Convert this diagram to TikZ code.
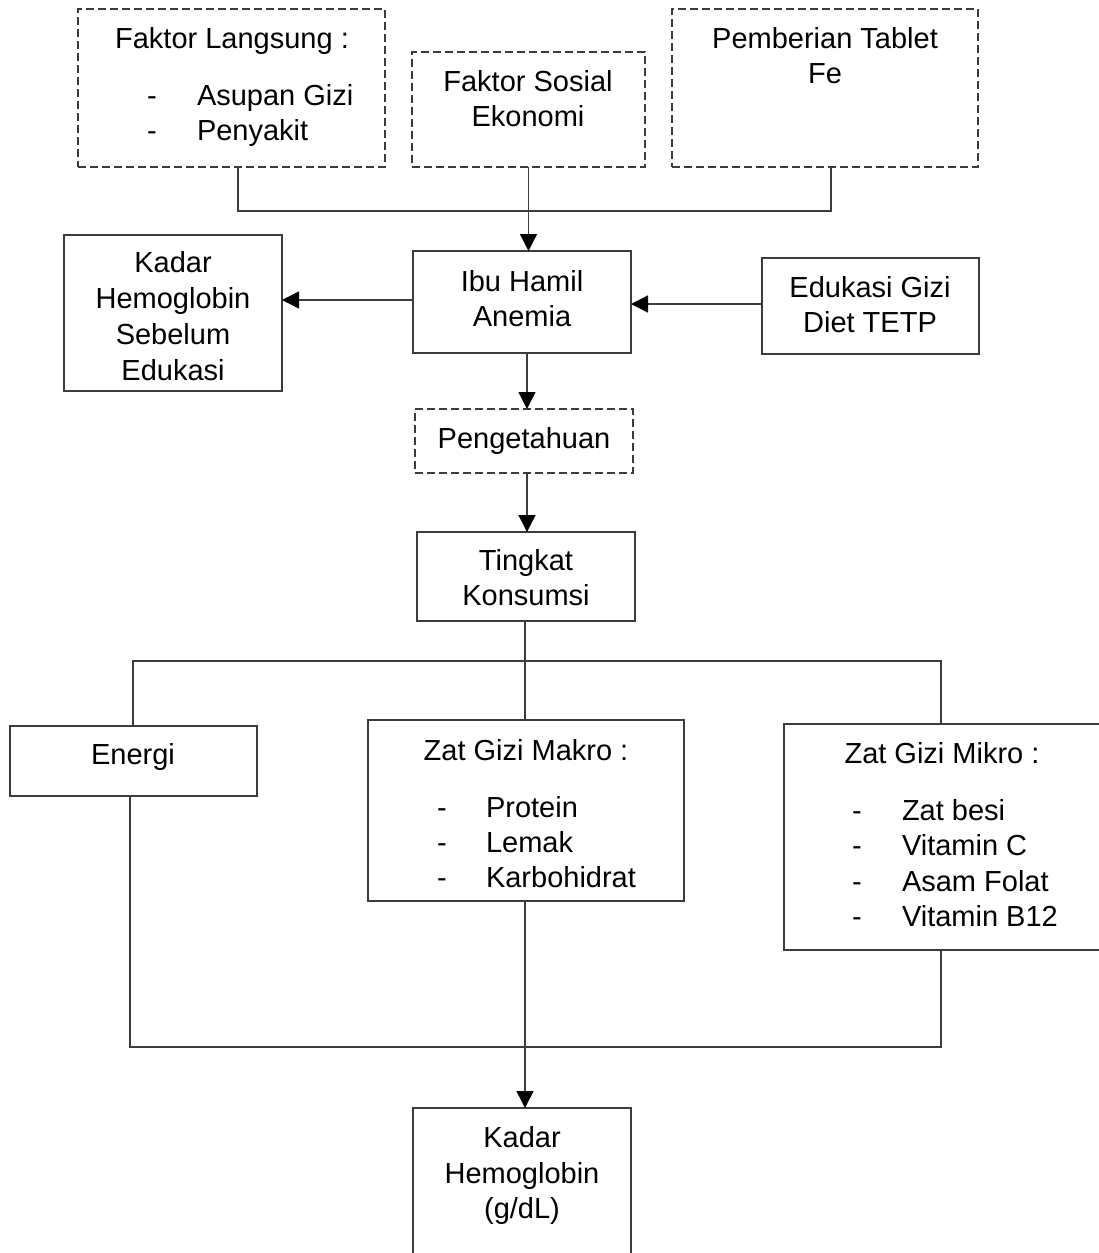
\documentclass[tikz,border=0pt]{standalone}
\usepackage{fontspec}
\setmainfont{Liberation Sans}
\usetikzlibrary{arrows.meta}
\definecolor{ln}{RGB}{60,60,60}
\begin{document}
\begin{tikzpicture}[x=1pt,y=-1pt,
  box/.style={draw=ln,line width=1.4pt,inner sep=0pt,outer sep=0pt,anchor=north west},
  dbox/.style={box,dash pattern=on 8pt off 4pt},
  txt/.style={inner sep=0pt,outer sep=0pt,anchor=base,font=\fontsize{29}{35}\selectfont},
  itm/.style={txt,anchor=base west},
  conn/.style={draw=ln,line width=1.4pt},
  arr/.style={conn,-{Triangle[length=17pt,width=17pt,color=black]}}]
\fill[white] (0,0) rectangle (1098,1253);
\useasboundingbox (0,0) rectangle (1098,1253);

% --- top row ---
\node[dbox,minimum width=307pt,minimum height=158pt] (fl) at (78,9) {};
\node[txt] (flh) at (232,48) {Faktor Langsung :};
\node[txt] (fld1) at (152,105) {-};
\node[itm] (fli1) at (197,105) {Asupan Gizi};
\node[txt] (fld2) at (152,140) {-};
\node[itm] (fli2) at (197,140) {Penyakit};

\node[dbox,minimum width=233pt,minimum height=115pt] (fs) at (412,52) {};
\node[txt] (fs1) at (528,91) {Faktor Sosial};
\node[txt] (fs2) at (528,126) {Ekonomi};

\node[dbox,minimum width=306pt,minimum height=158pt] (pt) at (672,9) {};
\node[txt] (pt1) at (825,48) {Pemberian Tablet};
\node[txt] (pt2) at (825,83) {Fe};

% --- middle row ---
\node[box,minimum width=218pt,minimum height=102pt] (ibu) at (413,251) {};
\node[txt] (ibu1) at (522,291) {Ibu Hamil};
\node[txt] (ibu2) at (522,326) {Anemia};

\node[box,minimum width=218pt,minimum height=156pt] (ks) at (64,235) {};
\node[txt] (ks1) at (173,272) {Kadar};
\node[txt] (ks2) at (173,308) {Hemoglobin};
\node[txt] (ks3) at (173,344) {Sebelum};
\node[txt] (ks4) at (173,380) {Edukasi};

\node[box,minimum width=217pt,minimum height=96pt] (ed) at (762,258) {};
\node[txt] (ed1) at (870,297) {Edukasi Gizi};
\node[txt] (ed2) at (870,332) {Diet TETP};

\node[dbox,minimum width=218pt,minimum height=64pt] (pg) at (415,409) {};
\node[txt] (pg1) at (524,448) {Pengetahuan};

\node[box,minimum width=218pt,minimum height=89pt] (tk) at (417,532) {};
\node[txt] (tk1) at (526,570) {Tingkat};
\node[txt] (tk2) at (526,605) {Konsumsi};

% --- nutrient row ---
\node[box,minimum width=247pt,minimum height=70pt] (en) at (10,726) {};
\node[txt] (en1) at (133,764) {Energi};

\node[box,minimum width=316pt,minimum height=181pt] (mk) at (368,720) {};
\node[txt] (mkh) at (526,760) {Zat Gizi Makro :};
\node[txt] (mkd1) at (442,817) {-};
\node[itm] (mki1) at (486,817) {Protein};
\node[txt] (mkd2) at (442,852) {-};
\node[itm] (mki2) at (486,852) {Lemak};
\node[txt] (mkd3) at (442,887) {-};
\node[itm] (mki3) at (486,887) {Karbohidrat};

\node[box,minimum width=320pt,minimum height=226pt] (mi) at (784,724) {};
\node[txt] (mih) at (942,763) {Zat Gizi Mikro :};
\node[txt] (mid1) at (857,820) {-};
\node[itm] (mii1) at (902,820) {Zat besi};
\node[txt] (mid2) at (857,855) {-};
\node[itm] (mii2) at (902,855) {Vitamin C};
\node[txt] (mid3) at (857,891) {-};
\node[itm] (mii3) at (902,891) {Asam Folat};
\node[txt] (mid4) at (857,926) {-};
\node[itm] (mii4) at (902,926) {Vitamin B12};

% --- bottom ---
\node[box,minimum width=218pt,minimum height=170pt] (kh) at (413,1108) {};
\node[txt] (kh1) at (522,1147) {Kadar};
\node[txt] (kh2) at (522,1183) {Hemoglobin};
\node[txt] (kh3) at (522,1218) {(g/dL)};

% --- connectors ---
\coordinate (jl) at (238,211);
\coordinate (jr) at (831,211);
\draw[conn] (jl |- fl.south) -- (jl) -- (jr) -- (jr |- pt.south);
\draw[arr] (fs.south) -- (fs.south |- ibu.north);
\coordinate (ya) at (0,300);
\coordinate (yb) at (0,304);
\draw[arr] (ibu.west |- ya) -- (ks.east |- ya);
\draw[arr] (ed.west |- yb) -- (ibu.east |- yb);
\coordinate (xa) at (527,0);
\draw[arr] (xa |- ibu.south) -- (xa |- pg.north);
\draw[arr] (xa |- pg.south) -- (xa |- tk.north);

\coordinate (t1) at (133,661);
\coordinate (t2) at (941,661);
\coordinate (xm) at (525,0);
\draw[conn] (xm |- tk.south) -- (xm |- mk.north);
\draw[conn] (t1 |- en.north) -- (t1) -- (t2) -- (t2 |- mi.north);

\coordinate (b1) at (130,1047);
\coordinate (b2) at (941,1047);
\coordinate (bm) at (525,1047);
\draw[conn] (b1 |- en.south) -- (b1) -- (b2) -- (b2 |- mi.south);
\draw[conn] (bm |- mk.south) -- (bm);
\draw[arr] (bm) -- (bm |- kh.north);
\end{tikzpicture}
\end{document}
